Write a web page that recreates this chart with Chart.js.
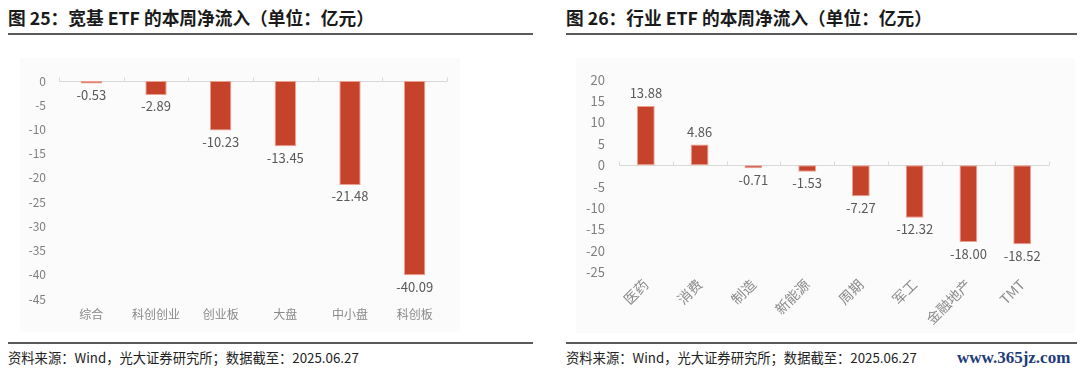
<!DOCTYPE html>
<html><head><meta charset="utf-8">
<script src="https://cdn.jsdelivr.net/npm/chart.js@4.4.1/dist/chart.umd.min.js"></script>
<style>
body{margin:0;width:1080px;height:373px;background:#fff;position:relative;overflow:hidden;font-family:'Noto Sans CJK SC','Noto Sans',sans-serif;}
.title{position:absolute;top:6px;font-size:17.7px;font-weight:bold;color:#1a1a1a;white-space:nowrap;line-height:22px}
.rule{position:absolute;height:2px;background:#5a5a5a}
.src{position:absolute;top:349px;font-size:13.3px;color:#222;line-height:18px;white-space:nowrap}
.box{position:absolute;background:#fbfbfb}
.wm{position:absolute;left:957px;top:347px;font-family:'Liberation Serif',serif;font-weight:bold;font-size:17px;color:#1f3d7a;line-height:22px;white-space:nowrap}
</style></head>
<body>
<div class="title" style="left:8px">图 25：宽基 ETF 的本周净流入（单位：亿元）</div>
<div class="rule" style="left:8px;width:525px;top:33px"></div>
<div class="title" style="left:566px">图 26：行业 ETF 的本周净流入（单位：亿元）</div>
<div class="rule" style="left:566px;width:511px;top:33px"></div>

<div class="box" style="left:20px;top:58px;width:440px;height:274px"><canvas id="c1" width="440" height="274"></canvas></div>
<div class="box" style="left:576px;top:58px;width:499px;height:275px"><canvas id="c2" width="499" height="275"></canvas></div>

<div class="rule" style="left:8px;width:525px;top:342px"></div>
<div class="rule" style="left:566px;width:511px;top:342px"></div>
<div class="src" style="left:8px">资料来源：Wind，光大证券研究所；数据截至：2025.06.27</div>
<div class="src" style="left:566px">资料来源：Wind，光大证券研究所；数据截至：2025.06.27</div>
<div class="wm">www.365jz.com</div>

<script>
const broadCategories = ['综合','科创创业','创业板','大盘','中小盘','科创板'];
const broadValues = [-0.53, -2.89, -10.23, -13.45, -21.48, -40.09];
const broadTicks = {min:-45, max:0, step:5};

const industryCategories = ['医药','消费','制造','新能源','周期','军工','金融地产','TMT'];
const industryValues = [13.88, 4.86, -0.71, -1.53, -7.27, -12.32, -18.00, -18.52];
const industryTicks = {min:-25, max:20, step:5};

Chart.defaults.font.family = "'Noto Sans CJK SC','Noto Sans',sans-serif";
Chart.defaults.animation = false;

const BAR = '#c5432a';

const zeroLine = {
  id:'zeroLine',
  beforeDatasetsDraw(chart){
    const {ctx, chartArea, scales:{x,y}} = chart;
    const y0 = Math.round(y.getPixelForValue(0)) + 0.5;
    const n = chart.data.labels.length;
    const step = x.getPixelForValue(1) - x.getPixelForValue(0);
    ctx.save();
    ctx.strokeStyle = '#d9d9d9';
    ctx.lineWidth = 1;
    ctx.beginPath();
    ctx.moveTo(chartArea.left, y0); ctx.lineTo(chartArea.right, y0);
    for(let i=0;i<=n;i++){
      const px = Math.round(x.getPixelForValue(0) - step/2 + i*step) + 0.5;
      ctx.moveTo(px, y0); ctx.lineTo(px, y0-4);
    }
    ctx.stroke();
    ctx.restore();
  }
};

const dataLabels = {
  id:'dataLabels',
  afterDatasetsDraw(chart, args, opts){
    const {ctx} = chart;
    const meta = chart.getDatasetMeta(0);
    const vals = chart.data.datasets[0].data;
    ctx.save();
    ctx.font = (opts.size||13) + "px 'Noto Sans CJK SC','Noto Sans',sans-serif";
    ctx.fillStyle = '#595959';
    ctx.textAlign = 'center';
    meta.data.forEach((bar,i)=>{
      const v = vals[i];
      const txt = v.toFixed(2);
      if(v >= 0){ ctx.textBaseline='bottom'; ctx.fillText(txt, bar.x, bar.y - 6); }
      else { ctx.textBaseline='top'; ctx.fillText(txt, bar.x, bar.y + 5); }
    });
    ctx.restore();
  }
};

function makeChart(id, labels, values, t, cfg){
  return new Chart(document.getElementById(id), {
    type:'bar',
    data:{labels, datasets:[{data:values, backgroundColor:BAR, borderColor:'rgba(236,150,130,0.9)', borderWidth:1, borderSkipped:false, barPercentage:0.33, categoryPercentage:1}]},
    options:{
      responsive:false,
      layout:{padding:cfg.padding},
      plugins:{legend:{display:false}, tooltip:{enabled:false}, dataLabels:{size:cfg.dlSize}},
      scales:{
        x:{
          grid:{display:false, drawTicks:false}, border:{display:false},
          ticks:{color:cfg.xColor, font:{size:cfg.xSize}, padding:cfg.xPad, autoSkip:false, minRotation:cfg.rot, maxRotation:cfg.rot},
          afterFit(s){ s.height = cfg.xHeight; }
        },
        y:{
          min:t.min, max:t.max,
          grid:{display:false, drawTicks:false}, border:{display:false},
          ticks:{stepSize:t.step, color:'#7f7f7f', font:{size:cfg.ySize}, padding:cfg.yPad},
          afterFit(s){ s.width = cfg.yWidth; }
        }
      }
    },
    plugins:[zeroLine, dataLabels]
  });
}

makeChart('c1', broadCategories, broadValues, broadTicks, {
  padding:{left:0, top:23, right:13, bottom:0},
  xHeight:33, yWidth:39, xSize:12, ySize:12, xPad:8, yPad:13, rot:0, dlSize:13, xColor:'#8a8a8a'
});
makeChart('c2', industryCategories, industryValues, industryTicks, {
  padding:{left:0, top:19, right:26, bottom:0},
  xHeight:61, yWidth:43, xSize:14, ySize:13, xPad:4, yPad:14, rot:45, dlSize:13, xColor:'#8a8a8a'
});
</script>
</body></html>
